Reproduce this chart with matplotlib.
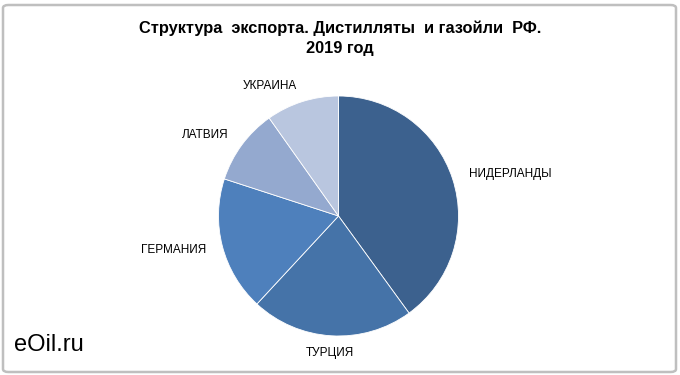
import matplotlib
matplotlib.use("Agg")
import matplotlib.pyplot as plt
from matplotlib.patches import FancyBboxPatch

countries = ["НИДЕРЛАНДЫ", "ТУРЦИЯ", "ГЕРМАНИЯ", "ЛАТВИЯ", "УКРАИНА"]
shares = [40.0, 21.9, 18.1, 10.2, 9.8]
colors = ["#3C618E", "#4573A8", "#4E80BC", "#94A9CF", "#B9C6DF"]

plt.rcParams['font.family'] = ['Liberation Sans', 'DejaVu Sans']

fig = plt.figure(figsize=(6.8, 3.75), dpi=100)
W, H = 680, 375
cx, cy, r = 338.5, 216, 120
ax = fig.add_axes([(cx - r) / W, (H - cy - r) / H, 2 * r / W, 2 * r / H])
wedges, texts = ax.pie(shares, labels=countries, colors=colors, startangle=90,
                       counterclock=False, labeldistance=1.14, radius=1.0,
                       wedgeprops=dict(linewidth=0.6, edgecolor="white"),
                       textprops=dict(fontsize=8.5, color="black"))
texts[1].set_ha("center")
ax.set_xlim(-1, 1)
ax.set_ylim(-1, 1)
ax.set_aspect('equal')

fig.text(340 / W, 1 - 38.5 / H, "Структура  экспорта. Дистилляты  и газойли  РФ.\n2019 год",
         ha="center", va="center", fontsize=11.8, fontweight="bold",
         linespacing=1.45)

fig.text(14 / W, 1 - 345 / H, "eOil.ru", ha="left", va="center", fontsize=17, color="black")

frame = FancyBboxPatch((3 / W, 3 / H), 673 / W, 367 / H,
                       boxstyle="round,pad=0,rounding_size=0.008",
                       transform=fig.transFigure, fill=False,
                       edgecolor="#BFBFBF", linewidth=1.8)
fig.patches.append(frame)

fig.savefig("out.png", dpi=100)
